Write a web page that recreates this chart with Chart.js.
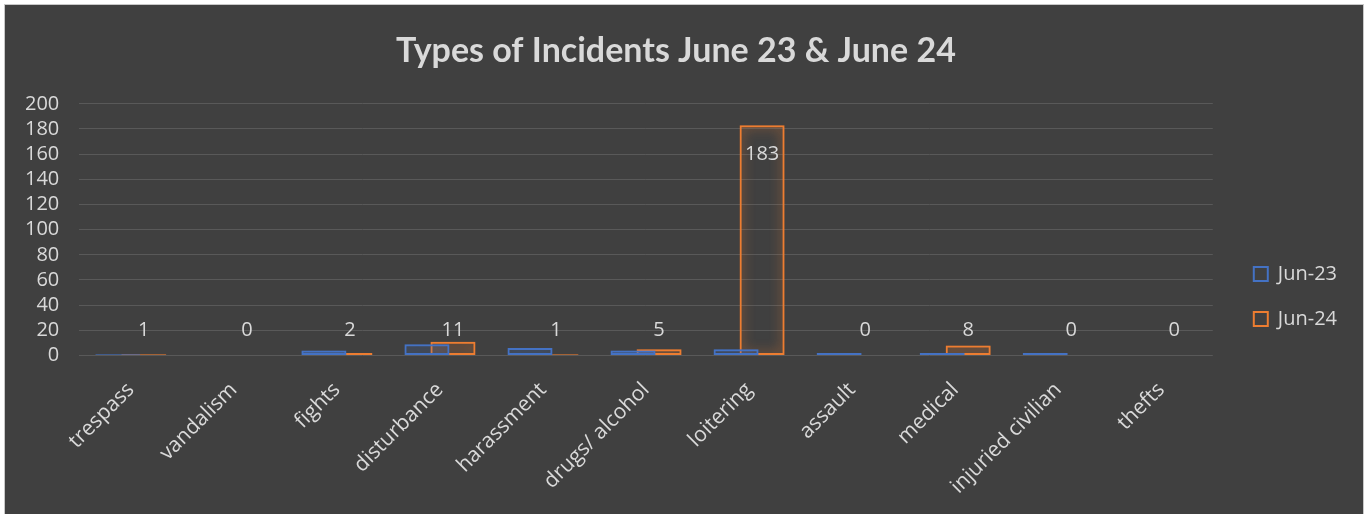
<!DOCTYPE html>
<html>
<head>
<meta charset="utf-8">
<script src="https://cdn.jsdelivr.net/npm/chart.js@4"></script>
<style>
  body { margin: 0; background: #ffffff; }
  #wrap {
    position: absolute; left: 4px; top: 4px;
    width: 1358px; height: 512px;
    background: #404040;
    border-left: 1px solid #c8c8c8; border-top: 1px solid #c8c8c8; border-right: 1px solid #c8c8c8;
  }
</style>
</head>
<body>
<div id="wrap"><canvas id="myChart"></canvas></div>
<script>
const categories = ["trespass", "vandalism", "fights", "disturbance", "harassment", "drugs/ alcohol",
  "loitering", "assault", "medical", "injuried civilian", "thefts"];
const jun23 = [1, 0, 4, 9, 6, 4, 5, 2, 2, 2, 0];
const jun24 = [1, 0, 2, 11, 1, 5, 183, 0, 8, 0, 0];
const yTicks = [0, 20, 40, 60, 80, 100, 120, 140, 160, 180, 200];

const textColor = "#d9d9d9";
const font = "'Open Sans', sans-serif";
const glowColors = ["rgba(68,114,196,.85)", "rgba(237,125,49,.95)"];

// soft glow round the bar outlines
const glowPlugin = {
  id: "glow",
  beforeDatasetDraw: (chart, args) => {
    chart.ctx.save();
    chart.ctx.shadowColor = glowColors[args.index];
    chart.ctx.shadowBlur = 12;
  },
  afterDatasetDraw: (chart) => {
    chart.ctx.restore();
  },
};

// value labels of the Jun-24 series
const labelPlugin = {
  id: "valueLabels",
  afterDatasetsDraw: (chart) => {
    const { ctx } = chart;
    const y = chart.scales.y;
    const meta = chart.getDatasetMeta(1);
    ctx.save();
    ctx.fillStyle = textColor;
    ctx.font = "20px " + font;
    ctx.textAlign = "center";
    ctx.textBaseline = "middle";
    meta.data.forEach((bar, i) => {
      const v = jun24[i];
      const py = v > 30 ? y.getPixelForValue(v) + 29 : y.getPixelForValue(20);
      ctx.fillText(String(v), bar.x, py);
    });
    ctx.restore();
  },
};

const ctx = document.getElementById("myChart").getContext("2d");
const myChart = new Chart(ctx, {
  type: "bar",
  data: {
    labels: categories,
    datasets: [
      {
        label: "Jun-23",
        data: jun23,
        borderColor: "#4472c4",
        backgroundColor: "rgba(64,64,64,0)",
        borderWidth: 2,
        borderSkipped: false,
      },
      {
        label: "Jun-24",
        data: jun24,
        borderColor: "#ed7d31",
        backgroundColor: "rgba(64,64,64,0)",
        borderWidth: 2,
        borderSkipped: false,
      },
    ],
  },
  options: {
    responsive: true,
    maintainAspectRatio: false,
    animation: false,
    categoryPercentage: 0.505,
    barPercentage: 1.73,
    layout: { padding: { left: 0, right: 16, top: 8, bottom: 4 } },
    scales: {
      x: {
        grid: { display: false },
        border: { display: false },
        ticks: {
          color: textColor,
          font: { family: font, size: 21 },
          maxRotation: 45,
          minRotation: 45,
          padding: 14,
        },
      },
      y: {
        min: 0,
        max: 200,
        afterBuildTicks: (axis) => {
          axis.ticks = yTicks.map((v) => ({ value: v }));
        },
        grid: { color: "#595959", lineWidth: 1, drawTicks: false },
        border: { display: false },
        ticks: {
          color: textColor,
          font: { family: font, size: 20 },
          padding: 20,
          autoSkip: false,
        },
      },
      // empty axis used only as a gap between plot and legend
      gap: {
        type: "linear",
        position: "right",
        grid: { display: false },
        border: { display: false },
        ticks: { display: false },
        afterFit: (axis) => {
          axis.width = 16;
        },
      },
    },
    plugins: {
      title: {
        display: true,
        text: "Types of Incidents June 23 & June 24",
        color: textColor,
        font: { family: "Lato, sans-serif", size: 34, weight: "bold" },
        padding: { top: 18, bottom: 32 },
      },
      legend: {
        position: "right",
        title: {
          display: true,
          text: " ",
          font: { size: 20 },
          padding: { top: 22, bottom: 21 },
        },
        labels: {
          color: textColor,
          boxWidth: 14,
          boxHeight: 14,
          padding: 25,
          font: { family: font, size: 20 },
        },
      },
      tooltip: { enabled: false },
    },
  },
  plugins: [glowPlugin, labelPlugin],
});
</script>
</body>
</html>
